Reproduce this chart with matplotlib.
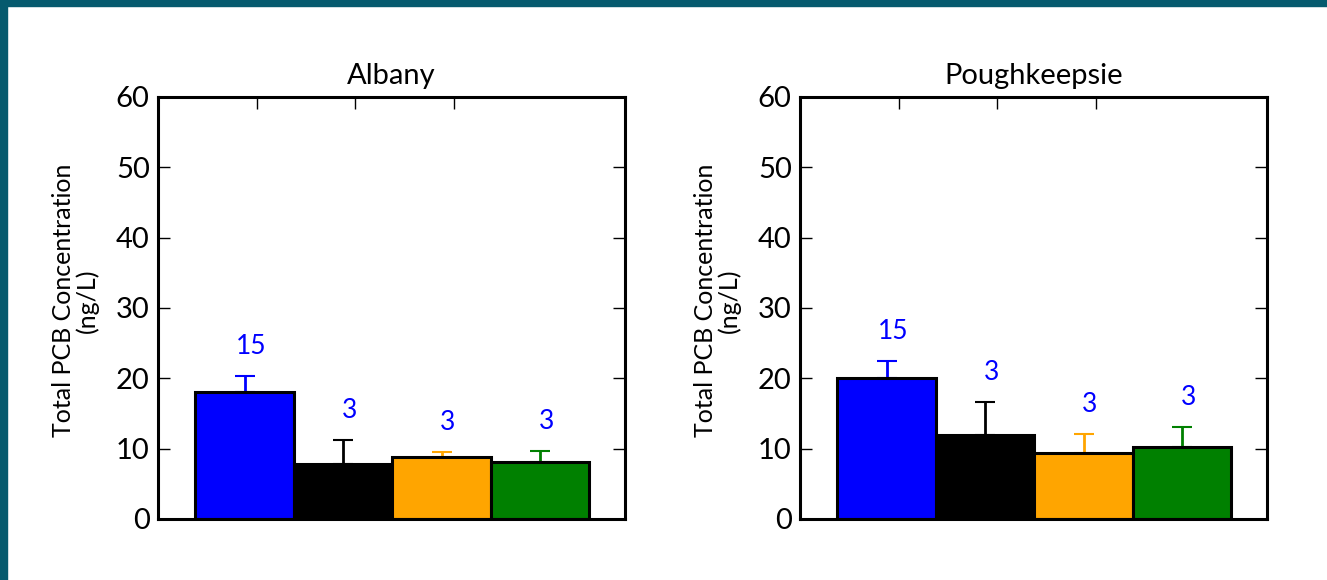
import matplotlib
matplotlib.use("Agg")
import matplotlib.pyplot as plt
from matplotlib.patches import Rectangle

#===================================================================#
#                              DATA                                 #
#===================================================================#

sites = ["Albany", "Poughkeepsie"]
bar_colors = ["blue", "black", "orange", "green"]

albany_mean = [18.1, 7.8, 8.8, 8.1]
albany_err = [2.2, 3.4, 0.7, 1.6]
albany_n = ["15", "3", "3", "3"]

pough_mean = [20.1, 11.9, 9.4, 10.2]
pough_err = [2.4, 4.7, 2.7, 2.9]
pough_n = ["15", "3", "3", "3"]

y_ticks = [0, 10, 20, 30, 40, 50, 60]
y_label = "Total PCB Concentration\n(ng/L)"

plt.rcParams['font.family'] = ['Lato', 'DejaVu Sans']

#===================================================================#
#                            FUNCTIONS                              #
#===================================================================#

def draw_panel(ax, title, means, errs, ns):  # one site panel
    x = list(range(len(means)))
    ax.bar(x, means, width=1.0, color=bar_colors, edgecolor="black",
           linewidth=2.2, zorder=2)
    for i in x:
        ax.errorbar(x[i], means[i], yerr=[[0], [errs[i]]], fmt="none",
                    ecolor=bar_colors[i], elinewidth=2, capsize=7,
                    capthick=1.5, zorder=1)
        ax.text(x[i] + 0.065, means[i] + errs[i] + 4.2, ns[i], color="blue",
                fontsize=19, ha="center", va="center")
    ax.set_xlim(-0.878, 3.863)
    ax.set_ylim(0, 60)
    ax.set_yticks(y_ticks)
    ax.set_xticks([0.127, 1.12, 2.13])
    ax.set_xticklabels([])
    ax.tick_params(axis="both", direction="in", length=8.5, width=1,
                   top=True, right=True, labelsize=21, pad=6, zorder=5)
    for s in ax.spines.values():
        s.set_linewidth(2.2)
        s.set_zorder(4)
    ax.set_title(title, fontsize=21, pad=9)
    ax.set_ylabel(y_label, fontsize=18, linespacing=1.05)
    ax.yaxis.set_label_coords(-0.126, 0.517)


#===================================================================#
#                              PLOT                                 #
#===================================================================#

fig = plt.figure(figsize=(13.27, 5.8), dpi=100)
ax1 = fig.add_axes([0.1191, 0.1052, 0.3519, 0.7276])
ax2 = fig.add_axes([0.6029, 0.1052, 0.3519, 0.7276])

draw_panel(ax1, sites[0], albany_mean, albany_err, albany_n)
draw_panel(ax2, sites[1], pough_mean, pough_err, pough_n)

# teal frame on top and left edge
border = "#065a6e"
fig.patches.append(Rectangle((0, 0), 7 / 1327, 1, transform=fig.transFigure,
                             color=border, zorder=10))
fig.patches.append(Rectangle((0, 1 - 6 / 580), 1, 6 / 580,
                             transform=fig.transFigure, color=border, zorder=10))

fig.savefig("out.png", dpi=100)
